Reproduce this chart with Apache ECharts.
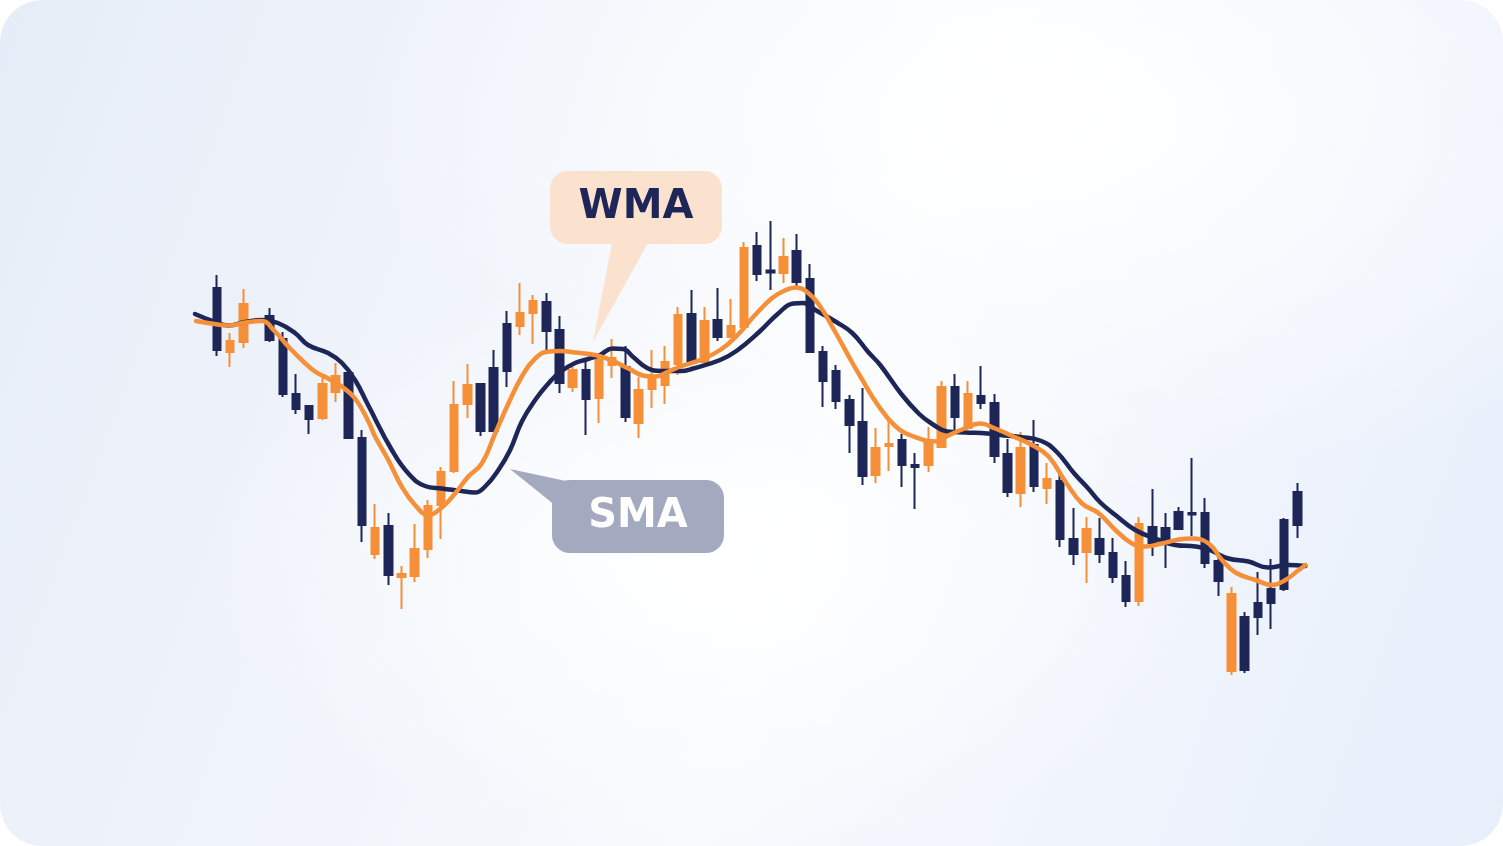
<!DOCTYPE html>
<html>
<head>
<meta charset="utf-8">
<script src="https://cdn.jsdelivr.net/npm/echarts@6/dist/echarts.min.js"></script>
<style>
html,body{margin:0;padding:0;background:#ffffff;}
#card{position:absolute;left:0;top:0;width:1503px;height:846px;border-radius:42px;overflow:hidden;
background:
 radial-gradient(ellipse 520px 300px at 720px 560px, rgba(255,255,255,1) 0%, rgba(255,255,255,0) 100%),
 radial-gradient(ellipse 700px 380px at 1050px 120px, rgba(255,255,255,1) 0%, rgba(255,255,255,0) 100%),
 linear-gradient(110deg, #e7edf8 0%, #f1f5fb 35%, #f8fafd 55%, #eef3fc 80%, #e8effb 100%);}
#chart{position:absolute;left:0;top:0;width:1503px;height:846px;}
</style>
</head>
<body>
<div id="card"></div>
<div id="chart"></div>
<script>
// Candles: tone N = navy, O = orange, null = empty slot
const tone = ['N','O','O',null,'N','N','N','N','O','O','N','N','O','N','O','O','O','O','O','O',
 'N','N','N','O','O','N','N','O','N','O','O','N','O','O','O','O','N','O','N','O',
 'O','N','N','O','N','N','N','N','N','N','O','O','N','N','O','O','N','O','N','N',
 'N','O','N','O','N','N','O','N','N','N','O','N','N','N','N','N','N','O','N','N',
 'N','N','N'];
const bodyLow  = [70.0,69.6,71.6,null,72.0,61.2,58.2,56.2,56.4,61.6,52.4,35.0,29.2,25.0,24.6,24.8,30.2,39.0,45.8,59.2,
 53.8,53.8,65.8,74.8,77.4,73.8,63.4,62.6,60.2,60.4,67.0,56.6,55.4,62.2,63.0,67.2,67.4,67.6,72.6,72.6,
 74.6,85.2,85.5,85.4,83.6,69.6,63.8,59.8,55.0,44.8,45.0,50.8,47.0,46.6,47.0,50.6,56.6,54.4,59.4,48.8,
 41.6,41.4,42.8,42.4,32.2,29.2,29.6,29.2,24.6,19.8,19.8,31.4,31.8,34.2,37.1,27.4,23.8,5.8,6.0,16.6,
 19.4,22.2,35.0];
const bodyHigh = [82.4,71.8,79.2,null,76.8,72.2,61.2,58.8,63.2,64.8,65.4,52.4,34.4,34.8,25.2,30.2,38.8,45.6,59.0,63.0,
 63.2,66.4,75.2,77.4,79.8,79.6,74.0,66.0,66.0,68.0,68.4,66.6,62.0,64.4,67.6,77.0,77.2,75.8,76.0,74.8,
 90.4,90.8,85.9,88.6,89.8,84.2,69.6,65.8,60.0,55.6,50.4,51.2,52.0,47.0,51.8,62.6,62.6,61.2,60.8,59.4,
 49.2,50.4,51.0,44.2,43.8,32.2,34.2,32.2,29.4,24.8,35.2,34.6,34.4,37.6,37.4,37.4,27.8,21.2,16.6,19.4,
 22.2,36.0,41.6];
const wickLow  = [68.8,66.6,70.4,null,71.6,60.6,57.2,53.2,56.0,59.6,52.4,31.6,28.2,23.0,18.2,23.6,28.4,32.2,45.4,56.4,
 52.8,53.8,62.6,73.0,71.2,70.0,61.4,61.6,53.0,55.4,64.4,55.6,52.4,58.4,59.2,65.0,67.4,67.6,71.8,72.6,
 74.6,83.8,82.0,83.4,82.8,69.6,58.6,58.2,49.4,43.0,43.4,45.8,42.6,38.2,45.6,50.6,54.0,54.4,58.2,47.4,
 40.6,38.6,41.6,39.2,30.6,27.0,23.4,27.4,23.4,18.6,18.8,28.8,26.4,34.2,32.8,26.4,20.8,5.0,5.4,13.0,
 14.2,21.8,32.4];
const wickHigh = [85.0,73.4,82.2,null,78.4,73.6,65.2,58.8,64.4,67.4,65.8,54.0,39.2,37.4,26.8,35.2,40.0,46.6,63.8,67.2,
 63.2,70.0,77.8,83.4,81.0,81.4,76.8,66.6,67.8,68.6,72.2,70.8,64.6,70.0,70.8,78.6,82.0,78.6,82.4,80.2,
 91.6,93.6,95.8,92.4,93.2,87.2,70.8,67.0,61.0,62.4,54.4,55.8,53.2,49.4,54.6,63.8,65.2,63.8,66.8,61.2,
 52.2,53.6,56.0,47.4,45.2,38.4,36.6,36.4,32.4,27.8,36.6,42.2,37.4,38.6,48.4,40.4,29.0,22.6,17.6,25.6,
 28.2,36.4,43.4];

// Moving average lines, x in candle-index units
const smaX = [-1.67,-0.15,0.84,2.13,3.42,4.63,5.92,6.91,8.43,9.49,10.48,11.47,13.27,14.53,15.79,17.06,18.32,19.59,20.35,
 21.36,22.25,23.14,24.15,25.16,26.04,27.18,28.17,29.08,29.99,30.83,31.59,32.65,33.71,35.23,36.14,38.19,39.48,41.23,42.6,
 43.74,44.5,45.48,47.0,48.22,49.43,50.34,51.94,53.3,54.29,55.43,56.8,58.47,59.45,60.97,62.57,63.71,65.07,66.13,67.05,
 68.19,69.7,71.22,72.74,74.26,75.25,76.77,78.29,79.8,81.32,82.61];
const smaY = [77.2,75.6,74.9,75.6,76.0,75.4,73.4,71.0,69.4,67.4,64.0,59.0,50.0,45.3,42.8,42.3,41.9,41.5,42.7,
 46.0,50.0,55.7,60.0,63.3,65.6,67.4,68.2,69.0,70.3,70.2,68.6,66.4,65.8,65.8,66.3,68.0,69.9,73.8,77.3,
 79.3,79.4,77.9,75.6,73.4,69.6,67.0,61.2,57.2,55.2,53.7,53.5,53.3,53.0,52.6,51.8,49.7,45.3,42.3,39.5,
 37.0,34.0,32.3,31.0,30.7,30.1,28.3,27.7,26.5,27.0,26.8];
const wmaX = [-1.59,-0.4,0.86,2.13,3.39,4.4,5.41,6.43,7.44,8.45,9.47,10.48,11.49,12.0,13.0,14.02,15.03,16.04,17.06,18.07,
 19.08,20.1,21.11,22.12,23.14,24.15,25.16,26.04,27.18,28.7,29.97,31.23,32.5,33.26,34.27,35.16,36.68,38.19,39.48,40.77,
 42.14,43.18,43.94,44.7,45.71,46.97,48.19,48.9,50.11,51.48,52.78,54.67,55.43,56.64,57.93,59.07,60.36,61.86,63.12,64.39,
 65.66,66.9,68.19,69.45,70.46,71.73,72.99,74.0,75.27,76.28,77.3,78.82,80.09,81.1,82.11,82.62];
const wmaY = [75.8,75.3,74.9,75.5,75.8,73.7,70.7,68.0,65.7,64.3,62.7,60.3,55.7,52.7,48.0,42.7,39.0,37.0,38.5,41.3,
 44.7,47.3,53.3,59.3,64.7,68.3,69.7,69.8,69.5,69.0,67.9,66.3,64.8,64.7,65.7,66.7,68.0,70.0,72.9,76.8,
 80.4,82.0,82.5,81.8,79.0,73.4,67.6,64.4,59.2,54.8,52.8,51.7,52.8,54.2,55.3,54.3,52.8,51.0,48.7,43.7,
 39.3,37.4,34.0,31.3,30.7,31.3,32.1,32.3,31.3,28.0,25.5,24.0,23.0,24.0,26.0,27.0];

const NAVY = '#1d2657';
const ORANGE = '#f58f38';
const categories = tone.map((_, i) => String(i + 1));

function candleData(t) {
  return tone.map((c, i) => c === t ? [bodyLow[i], bodyHigh[i], wickLow[i], wickHigh[i]] : '-');
}
function pts(xs, ys) { return xs.map((x, i) => [x, ys[i]]); }

// candle grid geometry
const G_LEFT = 210.4, G_RIGHT = 199.1, STEP = (1503 - G_LEFT - G_RIGHT) / tone.length;
// wider grid for the lines (same scale, extra room both sides)
const L_LEFT = 185, L_RIGHT = 185;
const lMin = -0.5 - (G_LEFT - L_LEFT) / STEP;
const lMax = tone.length - 0.5 + (G_RIGHT - L_RIGHT) / STEP;

const chart = echarts.init(document.getElementById('chart'), null, {renderer: 'canvas'});
const candleStyle = c => ({color: c, color0: c, borderColor: c, borderColor0: c, borderWidth: 2});
chart.setOption({
  backgroundColor: 'transparent',
  animation: false,
  grid: [
    {left: G_LEFT, right: G_RIGHT, top: 200, bottom: 146},
    {left: L_LEFT, right: L_RIGHT, top: 200, bottom: 146}
  ],
  xAxis: [
    {type: 'category', gridIndex: 0, data: categories, boundaryGap: true, show: false},
    {type: 'value', gridIndex: 1, min: lMin, max: lMax, show: false}
  ],
  yAxis: [
    {type: 'value', gridIndex: 0, min: 0, max: 100, show: false},
    {type: 'value', gridIndex: 1, min: 0, max: 100, show: false}
  ],
  graphic: [
    {type: 'polygon', z: 1, shape: {points: [[612, 243], [648, 243], [593, 342]]}, style: {fill: '#fbe2cf'}},
    {type: 'rect', z: 1, shape: {x: 550, y: 171, width: 172, height: 73, r: 18}, style: {fill: '#fbe2cf'}},
    {type: 'text', z: 2, x: 636, y: 208, style: {text: 'WMA', fill: NAVY, font: 'bold 40px "DejaVu Sans"', align: 'center', verticalAlign: 'middle'}},
    {type: 'polygon', z: 1, shape: {points: [[510, 469], [566, 481], [556, 506]]}, style: {fill: '#a3a9bf'}},
    {type: 'rect', z: 1, shape: {x: 552, y: 480, width: 172, height: 73, r: 18}, style: {fill: '#a3a9bf'}},
    {type: 'text', z: 2, x: 638, y: 517, style: {text: 'SMA', fill: '#ffffff', font: 'bold 40px "DejaVu Sans"', align: 'center', verticalAlign: 'middle'}}
  ],
  series: [
    {type: 'candlestick', name: 'navy', xAxisIndex: 0, yAxisIndex: 0, data: candleData('N'), barWidth: 8, itemStyle: candleStyle(NAVY), z: 3},
    {type: 'candlestick', name: 'orange', xAxisIndex: 0, yAxisIndex: 0, data: candleData('O'), barWidth: 8, itemStyle: candleStyle(ORANGE), z: 3},
    {type: 'line', name: 'SMA', xAxisIndex: 1, yAxisIndex: 1, data: pts(smaX, smaY), smooth: 0.45, showSymbol: false,
     lineStyle: {color: NAVY, width: 4.5, cap: 'round', join: 'round'}, z: 5},
    {type: 'line', name: 'WMA', xAxisIndex: 1, yAxisIndex: 1, data: pts(wmaX, wmaY), smooth: 0.45, showSymbol: false,
     lineStyle: {color: ORANGE, width: 4.5, cap: 'round', join: 'round'}, z: 6}
  ]
});
</script>
</body>
</html>
